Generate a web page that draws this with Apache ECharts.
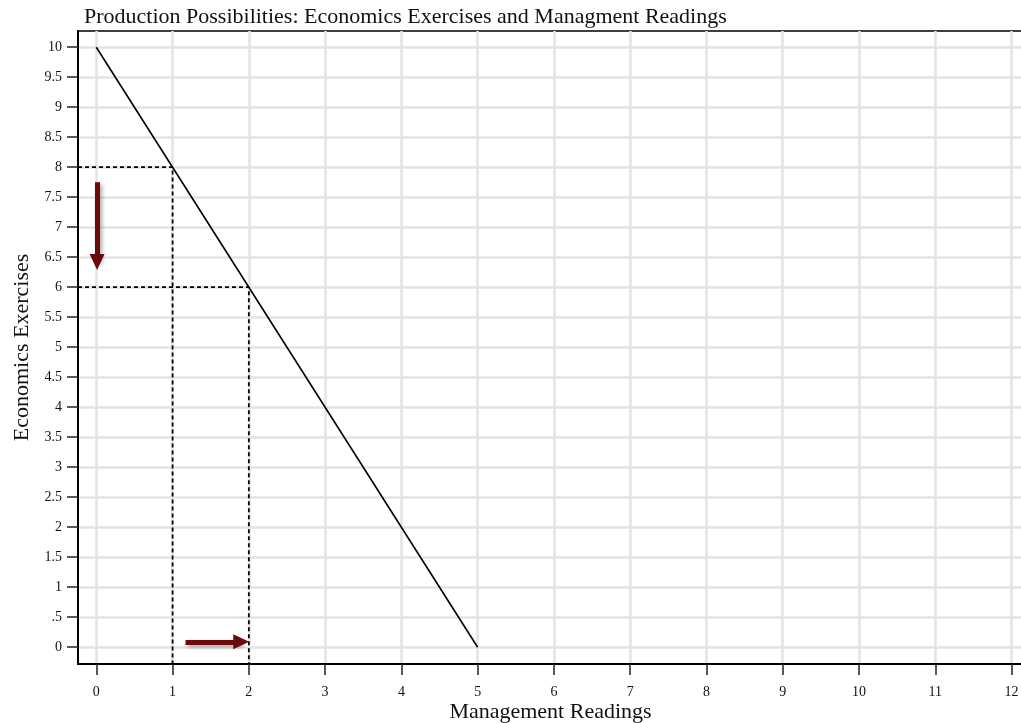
<!DOCTYPE html>
<html><head><meta charset="utf-8">
<script src="https://cdn.jsdelivr.net/npm/echarts@6/dist/echarts.min.js"></script>
<style>html,body{margin:0;padding:0;background:#fff}#c{width:1021px;height:723px}</style>
</head><body><div id="c"></div>
<script>
const titleText = 'Production Possibilities: Economics Exercises and Managment Readings';
const xName = 'Management Readings';
const yName = 'Economics Exercises';
const managementReadings = [0, 1, 2, 3, 4, 5];
const economicsExercises = [10, 8, 6, 4, 2, 0];
const xTicks = [0,1,2,3,4,5,6,7,8,9,10,11,12];
const yTicks = [0,0.5,1,1.5,2,2.5,3,3.5,4,4.5,5,5.5,6,6.5,7,7.5,8,8.5,9,9.5,10];
const xRange = [-0.24, 12.15];
const yRange = [-0.28, 10.27];
// dashed guides: from y-axis to the curve, then down to x-axis
const guideA = [[xRange[0], 8], [1, 8], [1, yRange[0]]];
const guideB = [[xRange[0], 6], [2, 6], [2, yRange[0]]];
// arrows: [from, to] (to = centre of the arrow head)
const arrowDown = [[0.01, 7.75], [0.01, 6.42]];
const arrowRight = [[1.17, 0.09], [1.9, 0.09]];

const font = 'Liberation Serif';
const chart = echarts.init(document.getElementById('c'));
const dashed = {color:'#000', width:1.8, type:[4,3]};
chart.setOption({
  animation:false,
  title:{text:titleText, left:79, top:1, textStyle:{fontFamily:font, fontSize:22, fontWeight:'normal', color:'#111'}},
  grid:{left:78, top:31, right:-2, bottom:59, outerBoundsMode:'none', containLabel:false,
    show:true, borderColor:'#000', borderWidth:1.5, backgroundColor:'transparent'},
  xAxis:{type:'value', min:xRange[0], max:xRange[1],
    name:xName, nameLocation:'middle', nameGap:37, nameMoveOverlap:false,
    nameTextStyle:{fontFamily:font, fontSize:22, color:'#111'},
    axisLine:{onZero:false, lineStyle:{color:'#000', width:2}},
    axisTick:{show:true, length:11, customValues:xTicks, lineStyle:{color:'#222', width:1.5}},
    axisLabel:{customValues:xTicks, fontFamily:font, fontSize:14, color:'#111', margin:21},
    splitLine:{show:true, lineStyle:{color:'#e3e3e3', width:2.5}}},
  yAxis:{type:'value', min:yRange[0], max:yRange[1],
    name:yName, nameLocation:'middle', nameGap:45, nameRotate:90, nameMoveOverlap:false,
    nameTextStyle:{fontFamily:font, fontSize:22, color:'#111'},
    axisLine:{show:true, onZero:false, lineStyle:{color:'#000', width:2}},
    axisTick:{show:true, length:11, customValues:yTicks, lineStyle:{color:'#222', width:1.5}},
    axisLabel:{customValues:yTicks, fontFamily:font, fontSize:14, color:'#111', margin:16,
      formatter:v => (v === 0.5 ? '.5' : String(v))},
    splitLine:{show:true, lineStyle:{color:'#e3e3e3', width:2.5}}},
  series:[
    {type:'line', data:managementReadings.map((x,i)=>[x, economicsExercises[i]]), showSymbol:false, lineStyle:{color:'#000', width:1.6}, z:5},
    {type:'line', data:guideA, showSymbol:false, lineStyle:dashed, z:4},
    {type:'line', data:guideB, showSymbol:false, lineStyle:dashed, z:4},
    {type:'line', data:[], z:6,
      markLine:{silent:true, symbol:['none','triangle'], symbolSize:[15,16],
        lineStyle:{color:'#6b0a0a', width:5, type:'solid', shadowBlur:4, shadowColor:'rgba(0,0,0,0.35)', shadowOffsetX:2, shadowOffsetY:2},
        itemStyle:{color:'#6b0a0a'},
        label:{show:false},
        data:[
          [{coord:arrowDown[0]},{coord:arrowDown[1]}],
          [{coord:arrowRight[0]},{coord:arrowRight[1]}]
        ]}}
  ]
});
</script></body></html>
